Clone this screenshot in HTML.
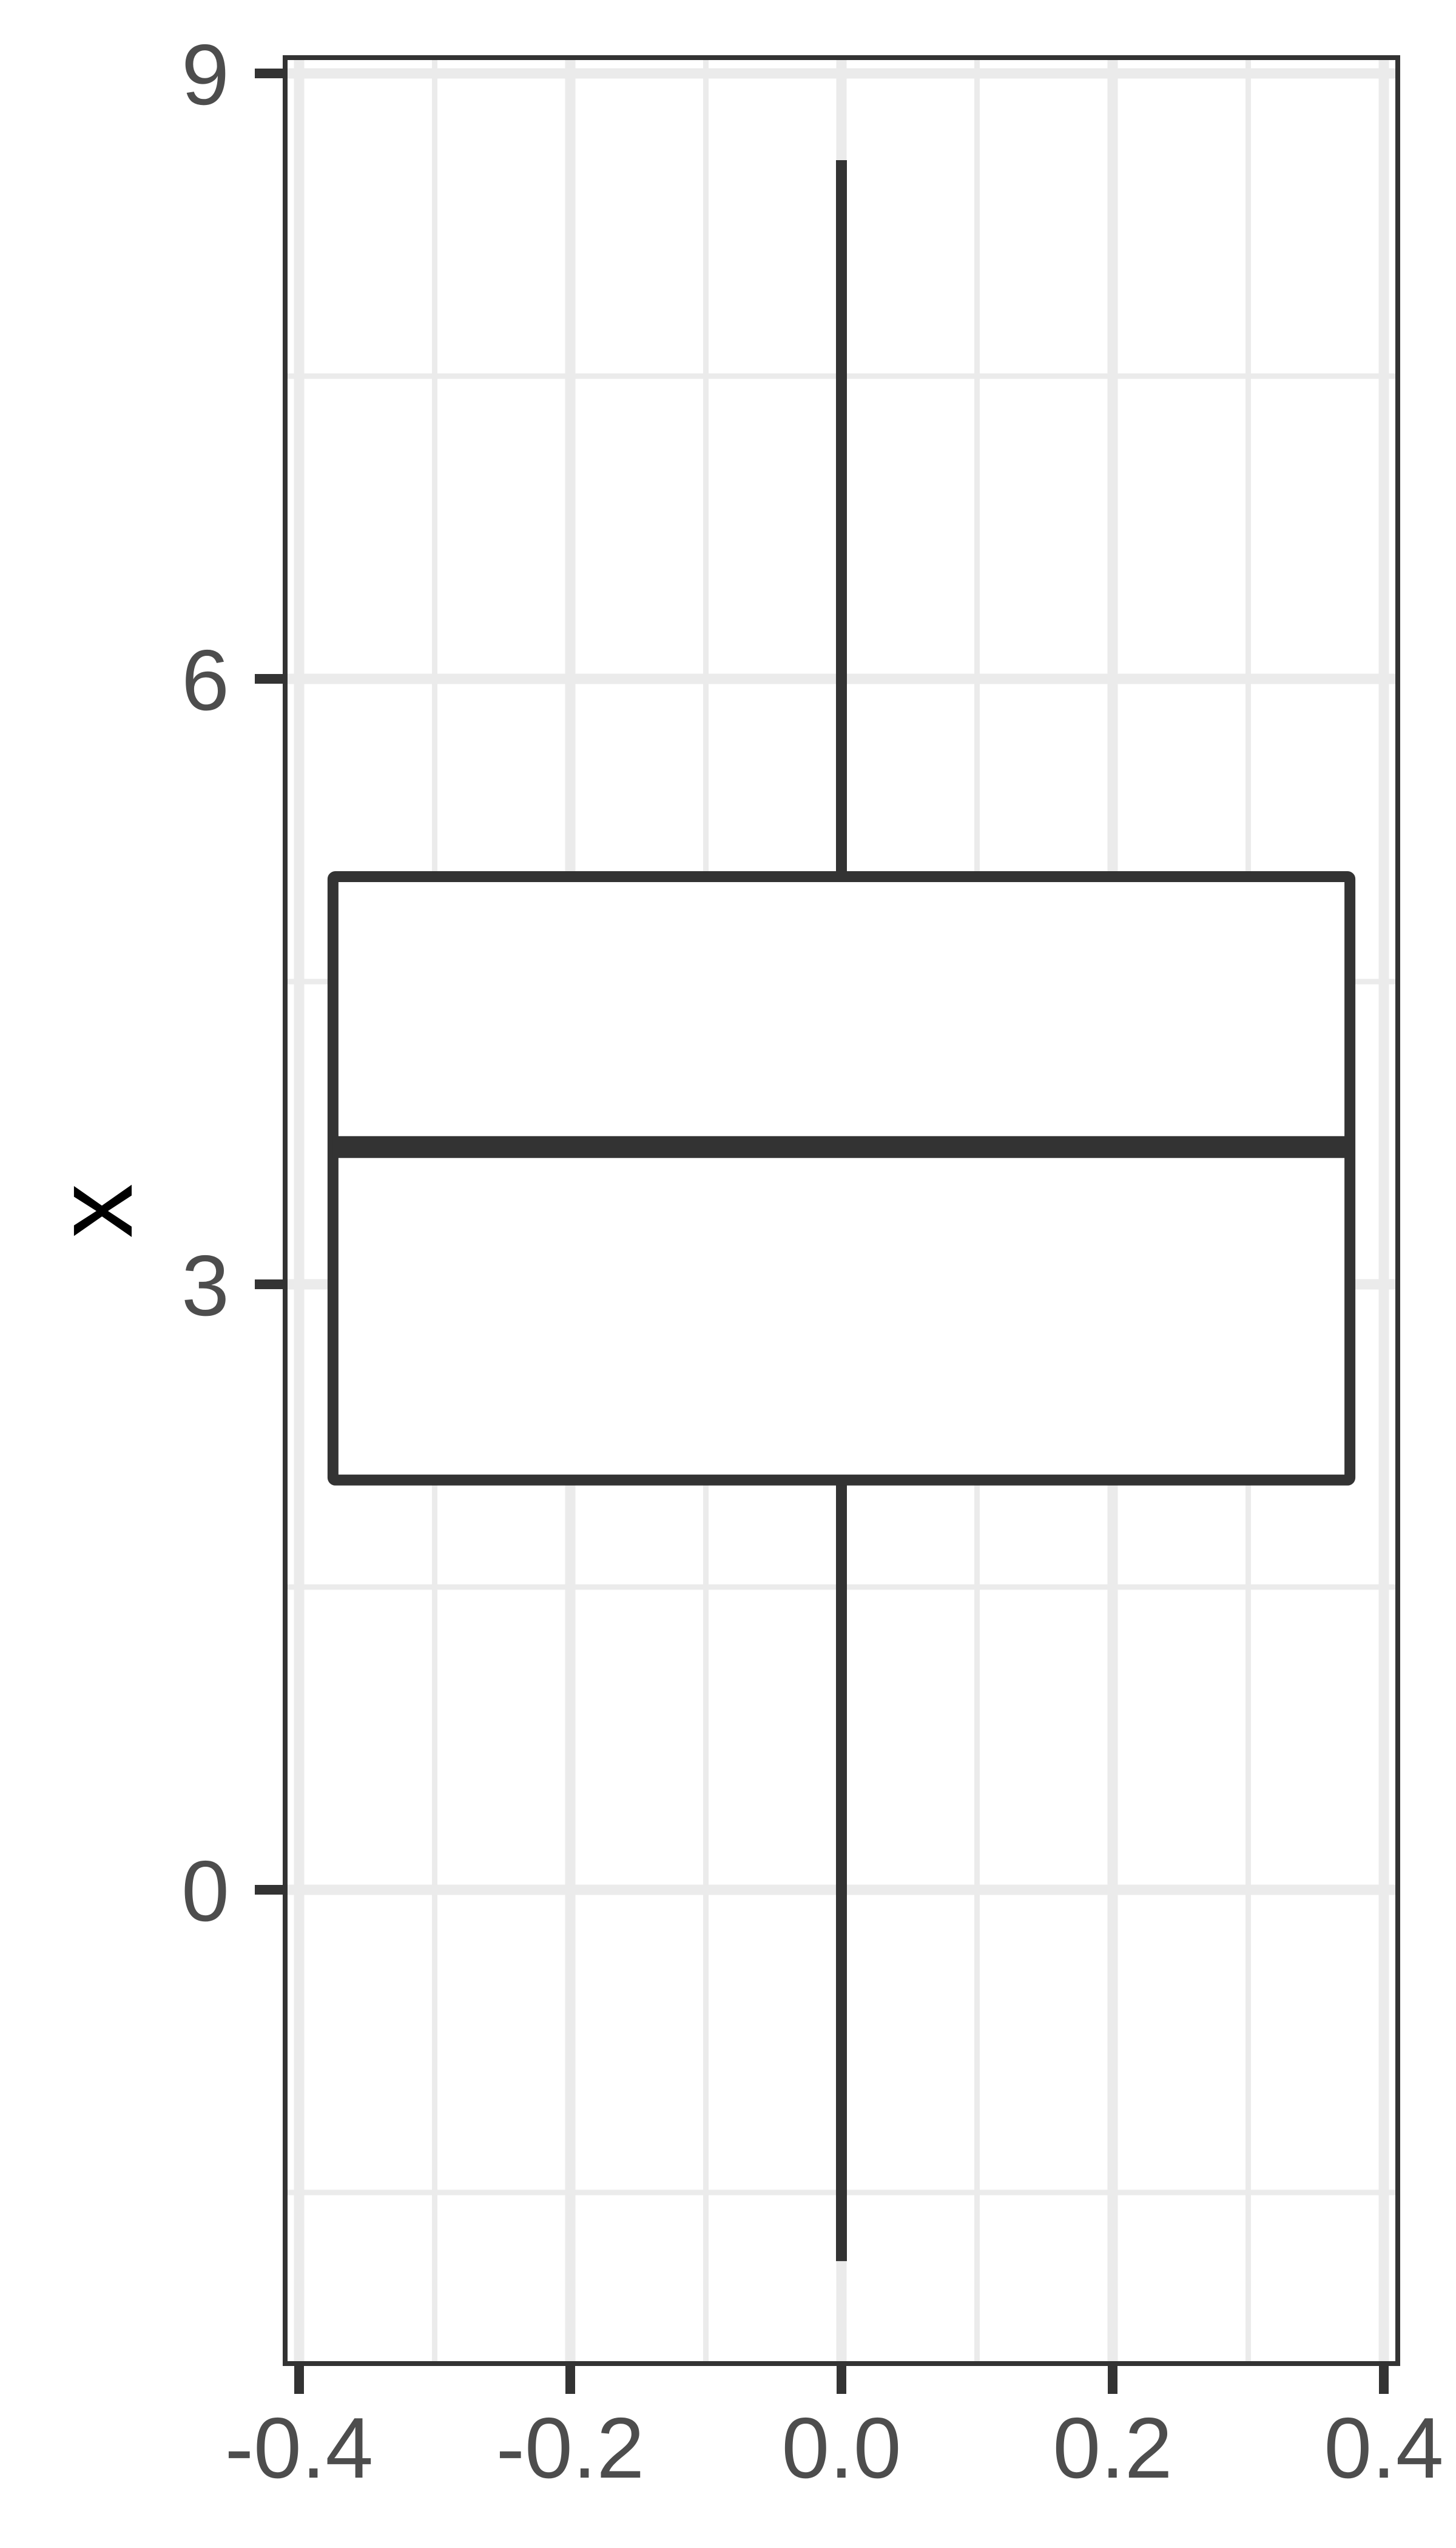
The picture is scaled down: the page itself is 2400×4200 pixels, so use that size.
<!DOCTYPE html>
<html>
<head>
<meta charset="utf-8">
<style>
  html,body{margin:0;padding:0;background:#fff;}
  svg{display:block;}
</style>
</head>
<body>
<svg id="chart" width="2400" height="4200" viewBox="0 0 2400 4200" xmlns="http://www.w3.org/2000/svg">
  <rect x="0" y="0" width="2400" height="4200" fill="#ffffff"/>
  <g id="grid"></g>
  <g id="marks"></g>
  <g id="axes"></g>
</svg>
<script>
// ---- data ----
const xTicks = [-0.4, -0.2, 0.0, 0.2, 0.4];
const xTickLabels = ["-0.4", "-0.2", "0.0", "0.2", "0.4"];
const xMinor = [-0.3, -0.1, 0.1, 0.3];
const yTicks = [0, 3, 6, 9];
const yTickLabels = ["0", "3", "6", "9"];
const yMinor = [-1.5, 1.5, 4.5, 7.5];
const boxStats = [-1.84, 2.03, 3.68, 5.02, 8.57]; // lower whisker, Q1, median, Q3, upper whisker
const boxCenter = [0.0];
const boxHalfWidth = [0.375];

// ---- scales ----
const panel = {left: 470, right: 2304, top: 95, bottom: 3896};
function xs(v){ return 1387 + v * 2235; }
function ys(v){ return 3115 - v * 332.67; }

const NS = "http://www.w3.org/2000/svg";
function mk(tag, attrs, parent){
  const e = document.createElementNS(NS, tag);
  for (const k in attrs) e.setAttribute(k, attrs[k]);
  parent.appendChild(e);
  return e;
}
const grid = document.getElementById('grid');
const marks = document.getElementById('marks');
const axes = document.getElementById('axes');

// minor grid
xMinor.forEach(v => {
  const l = mk('line', {x1: xs(v), x2: xs(v), y1: panel.top, y2: panel.bottom, stroke: '#ebebeb', 'stroke-width': 9}, grid);
  
  
});
yMinor.forEach(v => {
  const l = mk('line', {x1: panel.left, x2: panel.right, y1: ys(v), y2: ys(v), stroke: '#ebebeb', 'stroke-width': 9}, grid);
  
  
});
// major grid
xTicks.forEach(v => {
  const l = mk('line', {x1: xs(v), x2: xs(v), y1: panel.top, y2: panel.bottom, stroke: '#ebebeb', 'stroke-width': 17}, grid);
  
  
});
yTicks.forEach(v => {
  const l = mk('line', {x1: panel.left, x2: panel.right, y1: ys(v), y2: ys(v), stroke: '#ebebeb', 'stroke-width': 17}, grid);
  
  
});

// boxplot
const cx = xs(boxCenter[0]);
const bl = xs(boxCenter[0] - boxHalfWidth[0]);
const br = xs(boxCenter[0] + boxHalfWidth[0]);
const wl = mk('line', {x1: cx, x2: cx, y1: ys(boxStats[1]), y2: ys(boxStats[0]), stroke: '#333333', 'stroke-width': 18}, marks);


const wu = mk('line', {x1: cx, x2: cx, y1: ys(boxStats[3]), y2: ys(boxStats[4]), stroke: '#333333', 'stroke-width': 18}, marks);


const box = mk('rect', {x: bl, y: ys(boxStats[3]), width: br - bl, height: ys(boxStats[1]) - ys(boxStats[3]), fill: '#ffffff', stroke: '#333333', 'stroke-width': 18, rx: 4}, marks);


const med = mk('line', {x1: bl, x2: br, y1: ys(boxStats[2]), y2: ys(boxStats[2]), stroke: '#333333', 'stroke-width': 36}, marks);



// panel border
const pb = mk('rect', {x: panel.left, y: panel.top, width: panel.right - panel.left, height: panel.bottom - panel.top, fill: 'none', stroke: '#333333', 'stroke-width': 8}, axes);



// y ticks
yTicks.forEach((v, i) => {
  const t = mk('line', {x1: 420, x2: panel.left, y1: ys(v), y2: ys(v), stroke: '#333333', 'stroke-width': 16}, axes);
  
  
  const tx = mk('text', {x: 378, y: ys(v) + 51, 'text-anchor': 'end', 'font-family': 'Liberation Sans, sans-serif', 'font-size': 142, fill: '#4d4d4d'}, axes);
  tx.textContent = yTickLabels[i];
  
  
});
// x ticks
xTicks.forEach((v, i) => {
  const t = mk('line', {x1: xs(v), x2: xs(v), y1: panel.bottom, y2: 3946, stroke: '#333333', 'stroke-width': 16}, axes);
  
  
  const tx = mk('text', {x: xs(v), y: 4084, 'text-anchor': 'middle', 'font-family': 'Liberation Sans, sans-serif', 'font-size': 142, fill: '#4d4d4d'}, axes);
  tx.textContent = xTickLabels[i];
  
  
});

// y axis title
const yt = mk('text', {x: 0, y: 0, transform: 'translate(217,1996) rotate(-90)', 'text-anchor': 'middle', 'font-family': 'Liberation Sans, sans-serif', 'font-size': 180, fill: '#000000'}, axes);
yt.textContent = 'x';


</script>
</body>
</html>
